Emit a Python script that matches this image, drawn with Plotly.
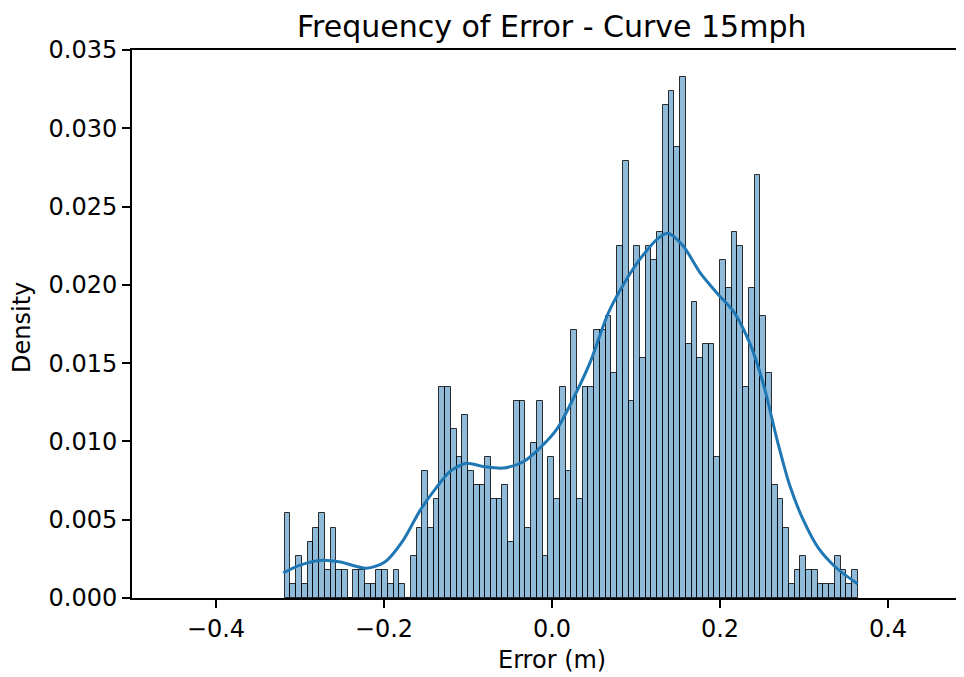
import numpy as np
import plotly.graph_objects as go

# Histogram bin definition (100 bins across the data range)
bin_lo = -0.3182
bin_hi = 0.3640
n_bins = 100

# Bar heights (density), left to right
density = [
    0.0054, 0.0009, 0.0027, 0.0009, 0.0036, 0.0045, 0.0054, 0.0018, 0.0045, 0.0018,
    0.0018, 0.0000, 0.0018, 0.0018, 0.0009, 0.0009, 0.0018, 0.0018, 0.0009, 0.0018,
    0.0009, 0.0000, 0.0027, 0.0045, 0.0081, 0.0045, 0.0063, 0.0135, 0.0135, 0.0108,
    0.0090, 0.0117, 0.0081, 0.0072, 0.0072, 0.0090, 0.0063, 0.0063, 0.0072, 0.0036,
    0.0126, 0.0126, 0.0045, 0.0099, 0.0126, 0.0027, 0.0090, 0.0063, 0.0135, 0.0081,
    0.0171, 0.0063, 0.0135, 0.0135, 0.0171, 0.0171, 0.0180, 0.0144, 0.0225, 0.0279,
    0.0126, 0.0225, 0.0153, 0.0225, 0.0216, 0.0234, 0.0315, 0.0324, 0.0288, 0.0333,
    0.0162, 0.0189, 0.0153, 0.0162, 0.0162, 0.0090, 0.0216, 0.0198, 0.0234, 0.0225,
    0.0135, 0.0198, 0.0270, 0.0180, 0.0144, 0.0072, 0.0063, 0.0045, 0.0009, 0.0018,
    0.0027, 0.0018, 0.0018, 0.0009, 0.0009, 0.0009, 0.0027, 0.0018, 0.0009, 0.0018,
]

# KDE curve points
kde_x = [-0.320, -0.300, -0.276, -0.252, -0.221, -0.199, -0.177, -0.157, -0.137, -0.121,
         -0.102, -0.082, -0.058, -0.034, -0.014, 0.006, 0.025, 0.045, 0.067, 0.087,
         0.107, 0.127, 0.138, 0.156, 0.176, 0.196, 0.216, 0.236, 0.252, 0.268,
         0.283, 0.299, 0.317, 0.339, 0.364]
kde_y = [0.0016, 0.0021, 0.0024, 0.0023, 0.0019, 0.0023, 0.0037, 0.0056, 0.0071, 0.0081,
         0.0086, 0.0084, 0.0083, 0.0087, 0.0096, 0.0108, 0.0127, 0.0150, 0.0182, 0.0202,
         0.0218, 0.0230, 0.0233, 0.0225, 0.0208, 0.0195, 0.0183, 0.0162, 0.0136, 0.0101,
         0.0072, 0.0050, 0.0032, 0.0019, 0.0009]

x_ticks = [-0.4, -0.2, 0.0, 0.2, 0.4]
x_ticktext = ["\u22120.4", "\u22120.2", "0.0", "0.2", "0.4"]
y_ticks = [0.000, 0.005, 0.010, 0.015, 0.020, 0.025, 0.030, 0.035]

edges = np.linspace(bin_lo, bin_hi, n_bins + 1)
centers = (edges[:-1] + edges[1:]) / 2
bw = edges[1] - edges[0]

FONT = "DejaVu Sans"
OFF = 8  # page body margin

fig = go.Figure()
fig.add_trace(go.Bar(
    x=centers, y=density, width=bw,
    marker=dict(color="rgba(31,119,180,0.5)",
                line=dict(color="rgba(0,0,0,0.8)", width=1)),
    showlegend=False, hoverinfo="skip",
))
fig.add_trace(go.Scatter(
    x=kde_x, y=kde_y, mode="lines",
    line=dict(color="#1f77b4", width=3, shape="spline", smoothing=0.8),
    showlegend=False, hoverinfo="skip",
))

W, H = 964, 677 - OFF
L = 132 - OFF
T = 50 - OFF
B = H - (598 - OFF)
R = OFF  # plot area reaches the right edge of the visible page
pw = W - L - R
ph = H - T - B


def px_x(x):
    return (x - OFF - L) / pw


def px_y(y):
    return (H - B - (y - OFF)) / ph


fig.update_layout(
    width=W, height=H,
    margin=dict(l=L, r=R, t=T, b=B, pad=0),
    paper_bgcolor="white", plot_bgcolor="white",
    bargap=0,
    font=dict(family=FONT, size=24, color="black"),
    xaxis=dict(
        range=[-0.5, 0.4905],
        tickvals=x_ticks, ticktext=x_ticktext,
        ticks="outside", ticklen=8, tickwidth=1.6, tickcolor="black",
        showline=True, linecolor="black", linewidth=1.8, mirror=True,
        showgrid=False, zeroline=False,
        tickfont=dict(family=FONT, size=24, color="black"),
    ),
    yaxis=dict(
        range=[0, 0.035],
        tickvals=y_ticks, tickformat=".3f",
        ticks="outside", ticklen=8, tickwidth=1.6, tickcolor="black",
        showline=True, linecolor="black", linewidth=1.8, mirror=False,
        showgrid=False, zeroline=False,
        tickfont=dict(family=FONT, size=24, color="black"),
    ),
    annotations=[
        dict(text="Frequency of Error - Curve 15mph", xref="paper", yref="paper",
             x=px_x(552), y=px_y(26), xanchor="center", yanchor="middle",
             showarrow=False, font=dict(family=FONT, size=30, color="black")),
        dict(text="Error (m)", xref="paper", yref="paper",
             x=px_x(552), y=px_y(660), xanchor="center", yanchor="middle",
             showarrow=False, font=dict(family=FONT, size=24, color="black")),
        dict(text="Density", xref="paper", yref="paper", textangle=-90,
             x=px_x(22), y=px_y(328), xanchor="center", yanchor="middle",
             showarrow=False, font=dict(family=FONT, size=24, color="black")),
    ],
)

fig.write_html("out.html")
